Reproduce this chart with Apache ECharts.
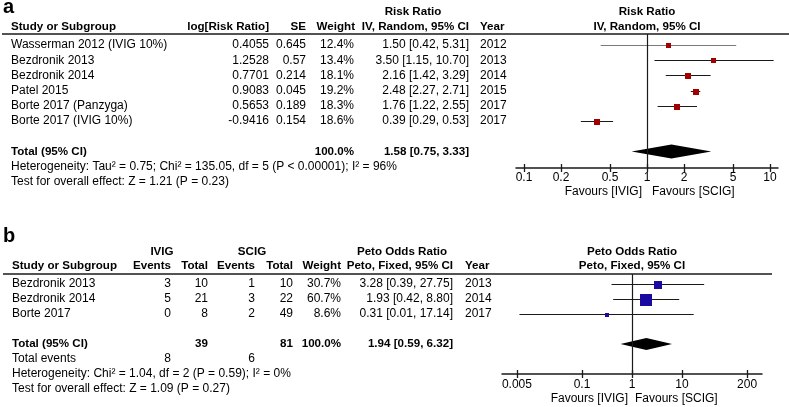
<!DOCTYPE html>
<html><head><meta charset="utf-8">
<script src="https://cdn.jsdelivr.net/npm/echarts@6/dist/echarts.min.js"></script>
<style>html,body{margin:0;padding:0;background:#fff}#c{width:789px;height:407px}</style>
</head><body><div id="c"></div>
<script>
// ---------- Panel a data ----------
const aStudies = ['Wasserman 2012 (IVIG 10%)','Bezdronik 2013','Bezdronik 2014','Patel 2015','Borte 2017 (Panzyga)','Borte 2017 (IVIG 10%)'];
const aLogRR = ['0.4055','1.2528','0.7701','0.9083','0.5653','-0.9416'];
const aSE = ['0.645','0.57','0.214','0.045','0.189','0.154'];
const aWeight = [12.4,13.4,18.1,19.2,18.3,18.6];
const aRR = [1.50,3.50,2.16,2.48,1.76,0.39];
const aLow = [0.42,1.15,1.42,2.27,1.22,0.29];
const aHigh = [5.31,10.70,3.29,2.71,2.55,0.53];
const aYear = ['2012','2013','2014','2015','2017','2017'];
const aTotal = [1.58,0.75,3.33];
const aTicks = [0.1,0.2,0.5,1,2,5,10];
const aHet = 'Heterogeneity: Tau\u00b2 = 0.75; Chi\u00b2 = 135.05, df = 5 (P < 0.00001); I\u00b2 = 96%';
const aTest = 'Test for overall effect: Z = 1.21 (P = 0.23)';

// ---------- Panel b data ----------
const bStudies = ['Bezdronik 2013','Bezdronik 2014','Borte 2017'];
const bIvigEv = [3,5,0];
const bIvigTot = [10,21,8];
const bScigEv = [1,3,2];
const bScigTot = [10,22,49];
const bWeight = [30.7,60.7,8.6];
const bOR = [3.28,1.93,0.31];
const bLow = [0.39,0.42,0.0056];
const bHigh = [27.75,8.80,17.14];
const bYear = ['2013','2014','2017'];
const bTotal = [1.94,0.59,6.32];
const bTicks = [0.005,0.1,1,10,200];
const bHet = 'Heterogeneity: Chi\u00b2 = 1.04, df = 2 (P = 0.59); I\u00b2 = 0%';
const bTest = 'Test for overall effect: Z = 1.09 (P = 0.27)';

// ---------- layout ----------
const FONT = '"Liberation Sans", Arial, sans-serif';
const L10 = Math.log10;
const A_X = 1.065, B_X = 2.6;
const A_Y = [-0.724, 8.092], B_Y = [-0.667, 6.0];
const INK = '#1a1a1a';
const BOLD_SIZE = 11.6;
function sqSize(w){ return Math.max(3, 1.75*Math.sqrt(w) - 1.5); }
function ciText(e,l,h){ return e.toFixed(2)+' ['+l.toFixed(2)+', '+h.toFixed(2)+']'; }
function fmtTick(v){ return String(+Math.pow(10, v).toPrecision(3)); }

const aData = aRR.map((v,i)=>[i, L10(v), L10(aLow[i]), L10(aHigh[i]), aWeight[i]]);
const bData = bOR.map((v,i)=>[i, L10(v), L10(bLow[i]), L10(bHigh[i]), bWeight[i]]);

function forestRender(color, lineColors){
  return function(params, api){
    const y = api.value(0);
    const pE = api.coord([api.value(1), y]);
    const pL = api.coord([api.value(2), y]);
    const pH = api.coord([api.value(3), y]);
    const s = Math.round(sqSize(api.value(4)));
    const yy = Math.round(pE[1]) + 0.5;
    return {type:'group', children:[
      {type:'line', shape:{x1:pL[0], y1:yy, x2:pH[0], y2:yy}, style:{stroke: lineColors[params.dataIndex] || INK, lineWidth:1}},
      {type:'rect', shape:{x:Math.round(pE[0]-s/2), y:Math.round(yy-s/2), width:s, height:s}, style:{fill:color}}
    ]};
  };
}
function diamondRender(hUp, hDown){
  return function(params, api){
    const y = api.value(0);
    const pE = api.coord([api.value(1), y]);
    const pL = api.coord([api.value(2), y]);
    const pH = api.coord([api.value(3), y]);
    return {type:'polygon', shape:{points:[[pL[0],pE[1]],[pE[0],pE[1]-hUp],[pH[0],pE[1]],[pE[0],pE[1]+hDown]]}, style:{fill:'#000'}};
  };
}
function mainX(grid, ext, ticks, margin){
  return {type:'value', gridIndex:grid, position:'bottom', min:-ext, max:ext,
    axisLine:{show:true, onZero:false, lineStyle:{color:INK, width:1.5}},
    axisTick:{show:true, customValues:ticks.map(L10), length:4, lineStyle:{color:INK, width:1.3}},
    axisLabel:{show:true, customValues:ticks.map(L10), formatter:fmtTick, margin:margin, color:'#000', fontSize:12, fontFamily:FONT},
    splitLine:{show:false}};
}
function innerX(grid, ext, ticks){
  return {type:'value', gridIndex:grid, position:'bottom', min:-ext, max:ext,
    axisLine:{show:false, onZero:false},
    axisTick:{show:true, inside:true, customValues:ticks.map(L10), length:4, lineStyle:{color:INK, width:1.3}},
    axisLabel:{show:false}, splitLine:{show:false}};
}
const refLine = {silent:true, symbol:'none', label:{show:false}, lineStyle:{color:INK, width:1.2, type:'solid'}, data:[{xAxis:0}]};

const chart = echarts.init(document.getElementById('c'), null, {renderer:'canvas'});
chart.setOption({
  animation:false,
  backgroundColor:'#fff',
  grid:[{left:516, width:262, top:34, height:134}, {left:502, width:260, top:274, height:100}],
  xAxis:[mainX(0, A_X, aTicks, 4), innerX(0, A_X, aTicks), mainX(1, B_X, bTicks, 5), innerX(1, B_X, bTicks)],
  yAxis:[{type:'value', gridIndex:0, inverse:true, min:A_Y[0], max:A_Y[1], show:false},
         {type:'value', gridIndex:1, inverse:true, min:B_Y[0], max:B_Y[1], show:false}],
  series:[
    {type:'custom', xAxisIndex:0, yAxisIndex:0, data:aData, encode:{x:[1,2,3], y:0}, clip:false,
     renderItem:forestRender('#a00000', ['#7a7a7a']), markLine:refLine},
    {type:'custom', xAxisIndex:0, yAxisIndex:0, data:[[aStudies.length+1, L10(aTotal[0]), L10(aTotal[1]), L10(aTotal[2])]],
     encode:{x:[1,2,3], y:0}, renderItem:diamondRender(7,7)},
    {type:'custom', xAxisIndex:2, yAxisIndex:1, data:bData, encode:{x:[1,2,3], y:0}, clip:false,
     renderItem:forestRender('#1a0aa0', []), markLine:refLine},
    {type:'custom', xAxisIndex:2, yAxisIndex:1, data:[[bStudies.length+1, L10(bTotal[0]), L10(bTotal[1]), L10(bTotal[2])]],
     encode:{x:[1,2,3], y:0}, renderItem:diamondRender(6,6)}
  ]
});

// ---------- table text ----------
function T(x, y, text, align, bold, size, va){
  return {type:'text', x:x, y:y, silent:true,
    style:{text:String(text), align:align||'left', verticalAlign:va||'middle', fontSize:size||(bold?BOLD_SIZE:12),
      fontWeight:bold?'bold':'normal', fontFamily:FONT, fill:'#000'}};
}
const rowA = i => chart.convertToPixel({gridIndex:0}, [0, i])[1];
const rowB = i => chart.convertToPixel({gridIndex:1}, [0, i])[1];
const oneA = chart.convertToPixel({gridIndex:0}, [0, 0])[0];
const oneB = chart.convertToPixel({gridIndex:1}, [0, 0])[0];
const axA = chart.convertToPixel({gridIndex:0}, [0, A_Y[1]])[1];
const axB = chart.convertToPixel({gridIndex:1}, [0, B_Y[1]])[1];
const g = [];
// panel a
g.push(T(3, 7, 'a', 'left', true, 20));
g.push(T(413, 12, 'Risk Ratio', 'center', true));
g.push(T(oneA, 12, 'Risk Ratio', 'center', true));
g.push(T(11, 27, 'Study or Subgroup', 'left', true));
g.push(T(269, 27, 'log[Risk Ratio]', 'right', true));
g.push(T(306, 27, 'SE', 'right', true));
g.push(T(355, 27, 'Weight', 'right', true));
g.push(T(469, 27, 'IV, Random, 95% CI', 'right', true));
g.push(T(480, 27, 'Year', 'left', true));
g.push(T(oneA, 27, 'IV, Random, 95% CI', 'center', true));
aStudies.forEach((s,i)=>{
  const y = rowA(i);
  g.push(T(11, y, s, 'left'));
  g.push(T(269, y, aLogRR[i], 'right'));
  g.push(T(306, y, aSE[i], 'right'));
  g.push(T(354, y, aWeight[i].toFixed(1)+'%', 'right'));
  g.push(T(469, y, ciText(aRR[i], aLow[i], aHigh[i]), 'right'));
  g.push(T(480, y, aYear[i], 'left'));
});
const nA = aStudies.length;
g.push(T(11, rowA(nA+1), 'Total (95% CI)', 'left', true));
g.push(T(354, rowA(nA+1), aWeight.reduce((p,c)=>p+c,0).toFixed(1)+'%', 'right', true));
g.push(T(469, rowA(nA+1), ciText(aTotal[0], aTotal[1], aTotal[2]), 'right', true));
g.push(T(11, rowA(nA+2), aHet, 'left'));
g.push(T(11, rowA(nA+3), aTest, 'left'));
g.push(T(oneA-5, axA+24, 'Favours [IVIG]', 'right'));
g.push(T(oneA+5, axA+24, 'Favours [SCIG]', 'left'));
g.push({type:'line', silent:true, shape:{x1:2, y1:34, x2:789, y2:34}, style:{stroke:INK, lineWidth:1.6}});
// panel b
g.push(T(3, 236, 'b', 'left', true, 20));
g.push(T(162, 252, 'IVIG', 'center', true));
g.push(T(252, 252, 'SCIG', 'center', true));
g.push(T(402, 252, 'Peto Odds Ratio', 'center', true));
g.push(T(oneB, 252, 'Peto Odds Ratio', 'center', true));
g.push(T(12, 266, 'Study or Subgroup', 'left', true));
g.push(T(171, 266, 'Events', 'right', true));
g.push(T(208, 266, 'Total', 'right', true));
g.push(T(255, 266, 'Events', 'right', true));
g.push(T(293, 266, 'Total', 'right', true));
g.push(T(341, 266, 'Weight', 'right', true));
g.push(T(453, 266, 'Peto, Fixed, 95% CI', 'right', true));
g.push(T(465, 266, 'Year', 'left', true));
g.push(T(oneB, 266, 'Peto, Fixed, 95% CI', 'center', true));
bStudies.forEach((s,i)=>{
  const y = rowB(i);
  g.push(T(12, y, s, 'left'));
  g.push(T(171, y, bIvigEv[i], 'right'));
  g.push(T(208, y, bIvigTot[i], 'right'));
  g.push(T(255, y, bScigEv[i], 'right'));
  g.push(T(293, y, bScigTot[i], 'right'));
  g.push(T(341, y, bWeight[i].toFixed(1)+'%', 'right'));
  g.push(T(453, y, ciText(bOR[i], bLow[i], bHigh[i]), 'right'));
  g.push(T(465, y, bYear[i], 'left'));
});
const nB = bStudies.length, sum = a => a.reduce((p,c)=>p+c,0);
g.push(T(12, rowB(nB+1), 'Total (95% CI)', 'left', true));
g.push(T(208, rowB(nB+1), sum(bIvigTot), 'right', true));
g.push(T(293, rowB(nB+1), sum(bScigTot), 'right', true));
g.push(T(341, rowB(nB+1), sum(bWeight).toFixed(1)+'%', 'right', true));
g.push(T(453, rowB(nB+1), ciText(bTotal[0], bTotal[1], bTotal[2]), 'right', true));
g.push(T(12, rowB(nB+2), 'Total events', 'left'));
g.push(T(171, rowB(nB+2), sum(bIvigEv), 'right'));
g.push(T(255, rowB(nB+2), sum(bScigEv), 'right'));
g.push(T(12, rowB(nB+3), bHet, 'left'));
g.push(T(12, rowB(nB+4), bTest, 'left'));
g.push(T(oneB-4, axB+25, 'Favours [IVIG]', 'right'));
g.push(T(oneB+3, axB+25, 'Favours [SCIG]', 'left'));
g.push({type:'line', silent:true, shape:{x1:3, y1:274, x2:772, y2:274}, style:{stroke:INK, lineWidth:1.6}});
chart.setOption({graphic:{elements:g}});
</script>
</body></html>
